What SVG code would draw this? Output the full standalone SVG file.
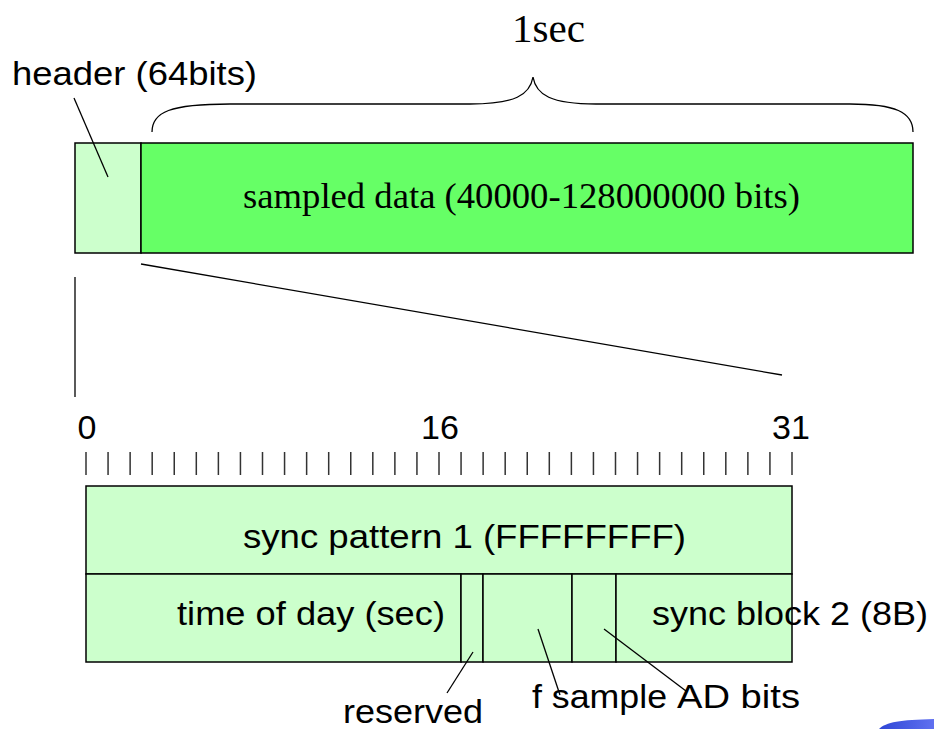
<svg xmlns="http://www.w3.org/2000/svg" width="934" height="729" viewBox="0 0 934 729">
<defs>
<style>
.sans{font-family:"Liberation Sans",Arial,sans-serif;font-size:34px;fill:#000}
.serif{font-family:"Liberation Serif","Times New Roman",serif;fill:#000}
.box{stroke:#000;stroke-width:1.5}
.lt{fill:#ccffcc}
.dk{fill:#66ff66}
.ln{stroke:#000;stroke-width:1.3;fill:none}
.tick{stroke:#333;stroke-width:1.5}
</style>
<linearGradient id="bl" x1="0" y1="0" x2="1" y2="0">
<stop offset="0" stop-color="#2f47d6"/>
<stop offset="1" stop-color="#6070f0"/>
</linearGradient>
</defs>
<rect width="934" height="729" fill="#fff"/>

<g id="label-1sec"><text class="serif" x="512" y="42" font-size="40" textLength="73" lengthAdjust="spacingAndGlyphs">1sec</text></g>
<g id="label-header"><text class="sans" x="12" y="85" textLength="245" lengthAdjust="spacingAndGlyphs">header (64bits)</text></g>

<g id="header-block"><rect class="box lt" x="75" y="143" width="66" height="110"/></g>
<g id="sampled-data">
<rect class="box dk" x="141" y="143" width="772" height="110"/>
<text class="serif" x="243" y="208" font-size="36" textLength="557" lengthAdjust="spacingAndGlyphs">sampled data (40000-128000000 bits)</text>
</g>

<g id="scale">
<text class="sans" x="87" y="439" text-anchor="middle">0</text>
<text class="sans" x="440" y="439" text-anchor="middle">16</text>
<text class="sans" x="791" y="439" text-anchor="middle">31</text>
<g class="tick">
<path d="M86,452V475M108.06,452V475M130.13,452V475M152.19,452V475M174.25,452V475M196.31,452V475M218.38,452V475M240.44,452V475M262.5,452V475M284.56,452V475M306.63,452V475M328.69,452V475M350.75,452V475M372.81,452V475M394.88,452V475M416.94,452V475M439,452V475M461.06,452V475M483.13,452V475M505.19,452V475M527.25,452V475M549.31,452V475M571.38,452V475M593.44,452V475M615.5,452V475M637.56,452V475M659.63,452V475M681.69,452V475M703.75,452V475M725.81,452V475M747.88,452V475M769.94,452V475M792,452V475"/>
</g>
</g>

<g id="sync-pattern">
<rect class="box lt" x="86" y="486" width="706" height="88"/>
<text class="sans" x="243" y="548" textLength="443" lengthAdjust="spacingAndGlyphs">sync pattern 1 (FFFFFFFF)</text>
</g>
<g id="time-of-day">
<rect class="box lt" x="86" y="574" width="375" height="88"/>
<text class="sans" x="177" y="625" textLength="268" lengthAdjust="spacingAndGlyphs">time of day (sec)</text>
</g>
<g id="reserved"><rect class="box lt" x="461" y="574" width="22" height="88"/></g>
<g id="f-sample"><rect class="box lt" x="483" y="574" width="89" height="88"/></g>
<g id="ad-bits"><rect class="box lt" x="572" y="574" width="44" height="88"/></g>
<g id="sync-block-2">
<rect class="box lt" x="616" y="574" width="176" height="88"/>
<text class="sans" x="652" y="625" textLength="276" lengthAdjust="spacingAndGlyphs">sync block 2 (8B)</text>
</g>

<g id="labels">
<text class="sans" x="343" y="723" textLength="140" lengthAdjust="spacingAndGlyphs">reserved</text>
<text class="sans" x="532" y="708" textLength="135" lengthAdjust="spacingAndGlyphs">f sample</text>
<text class="sans" x="677" y="708" textLength="123" lengthAdjust="spacingAndGlyphs">AD bits</text>
</g>

<g id="connectors">
<path class="ln" d="M74,98 L108,177"/>
<path class="ln" d="M152,132 C152,112 170,104 230,104 L470,104 C515,104 530,95 533,77 C536,95 551,104 596,104 L850,104 C895,104 913,112 913,132"/>
<path class="ln" d="M75,277 L75,397"/>
<path class="ln" d="M141,264 L782,375"/>
<path class="ln" d="M473,652 L447,693"/>
<path class="ln" d="M538,629 L560,695"/>
<path class="ln" d="M604,629 L686,691"/>
</g>

<path d="M879,729 C886,722 900,720 934,719 L934,729 Z" fill="url(#bl)"/>
</svg>
